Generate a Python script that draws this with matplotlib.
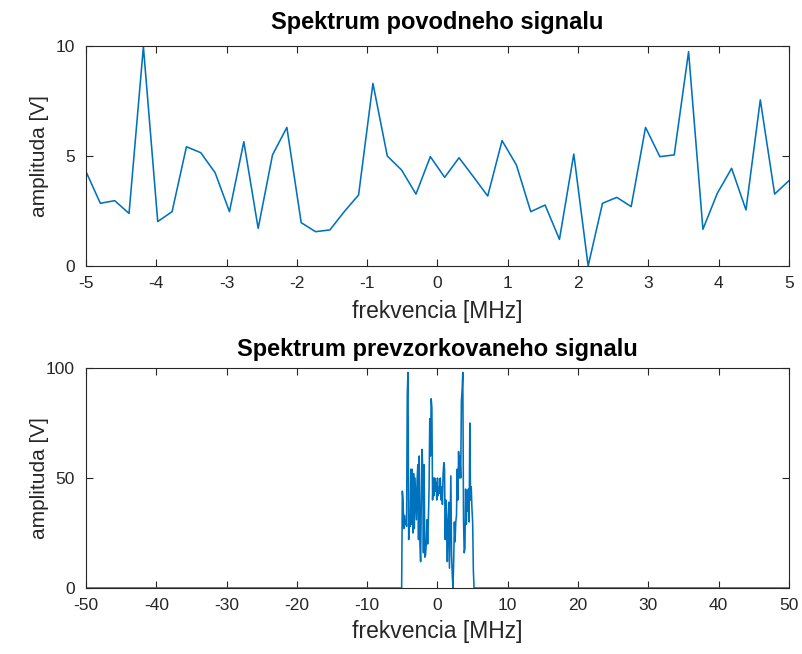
import numpy as np
import matplotlib
matplotlib.use("Agg")
import matplotlib.pyplot as plt

plt.rcParams["font.family"] = ["Liberation Sans", "DejaVu Sans"]
plt.rcParams["axes.unicode_minus"] = False

# povodny signal - 50 bodov od -5 do 5 MHz
f_orig = np.linspace(-5, 5, 50)
amp_orig = [
    4.29, 2.85, 2.97, 2.39, 9.97, 2.02, 2.47, 5.42, 5.15, 4.24,
    2.47, 5.65, 1.71, 5.05, 6.30, 1.97, 1.56, 1.64, 2.47, 3.23,
    8.30, 5.00, 4.36, 3.27, 4.97, 4.03, 4.92, 4.06, 3.18, 5.70,
    4.59, 2.47, 2.77, 1.21, 5.09, 0.00, 2.85, 3.12, 2.70, 6.30,
    4.97, 5.05, 9.74, 1.67, 3.30, 4.44, 2.55, 7.55, 3.27, 3.88,
]

# prevzorkovany signal - krok 0.1 MHz od -50 do 50, nenulove len od -5 MHz
f_res = np.linspace(-50, 50, 1001)
band_start = 450
amp_band = [
    44, 40, 27, 33, 29, 31, 28, 88, 98, 22,
    33, 28, 54, 29, 54, 25, 52, 27, 50, 40,
    31, 49, 56, 22, 60, 20, 12, 40, 63, 54,
    16, 56, 14, 15, 20, 31, 20, 31, 45, 77,
    60, 86, 82, 40, 50, 42, 50, 44, 48, 40,
    50, 42, 46, 43, 50, 40, 46, 38, 52, 57,
    54, 22, 40, 29, 12, 30, 39, 9, 30, 51,
    15, 6, 0, 12, 30, 21, 30, 33, 54, 40,
    62, 50, 60, 50, 85, 90, 98, 31, 16, 18,
    45, 29, 44, 35, 45, 30, 75, 40, 46, 36,
    30, 8,
]
amp_res = np.zeros(len(f_res))
amp_res[band_start:band_start + len(amp_band)] = amp_band

line_col = "#0072BD"
ax_col = "#262626"

fig = plt.figure(figsize=(8.03, 6.54), dpi=100)
ax1 = fig.add_axes([86 / 803, 1 - 266 / 654, 703 / 803, 220 / 654])
ax2 = fig.add_axes([86 / 803, 1 - 588 / 654, 703 / 803, 220 / 654])


def style(ax):
    for s in ax.spines.values():
        s.set_color(ax_col)
        s.set_linewidth(0.8)
    ax.tick_params(direction="in", top=True, right=True, length=5,
                   width=0.8, color=ax_col, labelcolor=ax_col,
                   labelsize=12.5)
    ax.tick_params(axis="x", pad=7)
    ax.tick_params(axis="y", pad=8)
    ax.yaxis.set_label_coords(-0.053, 0.5)


ax1.plot(f_orig, amp_orig, color=line_col, lw=1.15)
ax1.set_xlim(-5, 5)
ax1.set_ylim(0, 10)
ax1.set_xticks(np.arange(-5, 6, 1))
ax1.set_yticks([0, 5, 10])
ax1.set_title("Spektrum povodneho signalu", fontsize=17, fontweight="bold", pad=12)
ax1.set_xlabel("frekvencia [MHz]", fontsize=16.5, color=ax_col, labelpad=7)
ax1.set_ylabel("amplituda [V]", fontsize=15, color=ax_col)
style(ax1)

ax2.plot(f_res, amp_res, color=line_col, lw=1.15)
ax2.set_xlim(-50, 50)
ax2.set_ylim(0, 100)
ax2.set_xticks(np.arange(-50, 51, 10))
ax2.set_yticks([0, 50, 100])
ax2.set_title("Spektrum prevzorkovaneho signalu", fontsize=17, fontweight="bold", pad=9)
ax2.set_xlabel("frekvencia [MHz]", fontsize=16.5, color=ax_col, labelpad=5)
ax2.set_ylabel("amplituda [V]", fontsize=15, color=ax_col)
style(ax2)

fig.savefig("out.png", dpi=100)
